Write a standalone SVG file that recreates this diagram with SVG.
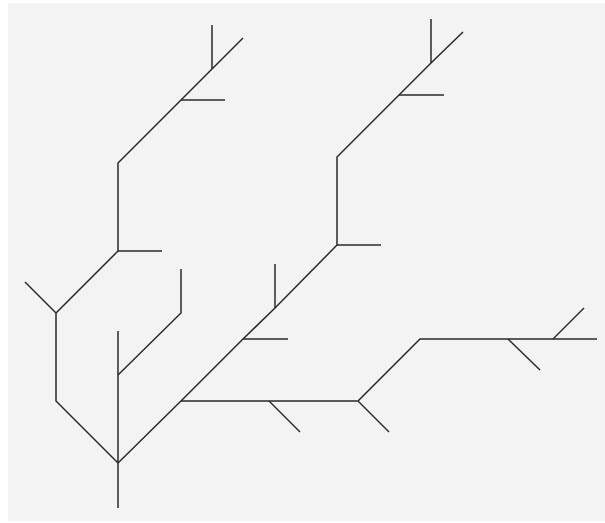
<svg xmlns="http://www.w3.org/2000/svg" width="605" height="523" viewBox="0 0 605 523">
<style>
.t{fill:none;stroke:#2a2a2a;stroke-width:1.5;stroke-linecap:butt;stroke-linejoin:miter}
</style>
<rect x="0" y="0" width="605" height="523" fill="#ffffff"/>
<rect x="8" y="3" width="597" height="518" fill="#f3f3f3"/>
<g id="tree" class="t">
<polyline points="118,508 118,331"/>
<polyline points="118,463 56,401 56,313 25,282"/>
<polyline points="56,313 118,251 118,163 181,100 212,69 243,38"/>
<line x1="118" y1="251" x2="162" y2="251"/>
<line x1="181" y1="100" x2="225" y2="100"/>
<line x1="212" y1="69" x2="212" y2="25"/>
<polyline points="118,375 181,313 181,269"/>
<polyline points="118,463 181,401 243,339 275,308 337,245 337,157 399,95 431,63 463,32"/>
<line x1="243" y1="339" x2="288" y2="339"/>
<line x1="275" y1="308" x2="275" y2="264"/>
<line x1="337" y1="245" x2="381" y2="245"/>
<line x1="399" y1="95" x2="444" y2="95"/>
<line x1="431" y1="63" x2="431" y2="19"/>
<polyline points="181,401 358,401 420,339 597,339"/>
<line x1="269" y1="401" x2="300" y2="432"/>
<line x1="358" y1="401" x2="389" y2="432"/>
<line x1="508" y1="339" x2="540" y2="370"/>
<line x1="553" y1="339" x2="584" y2="308"/>
</g>
</svg>
